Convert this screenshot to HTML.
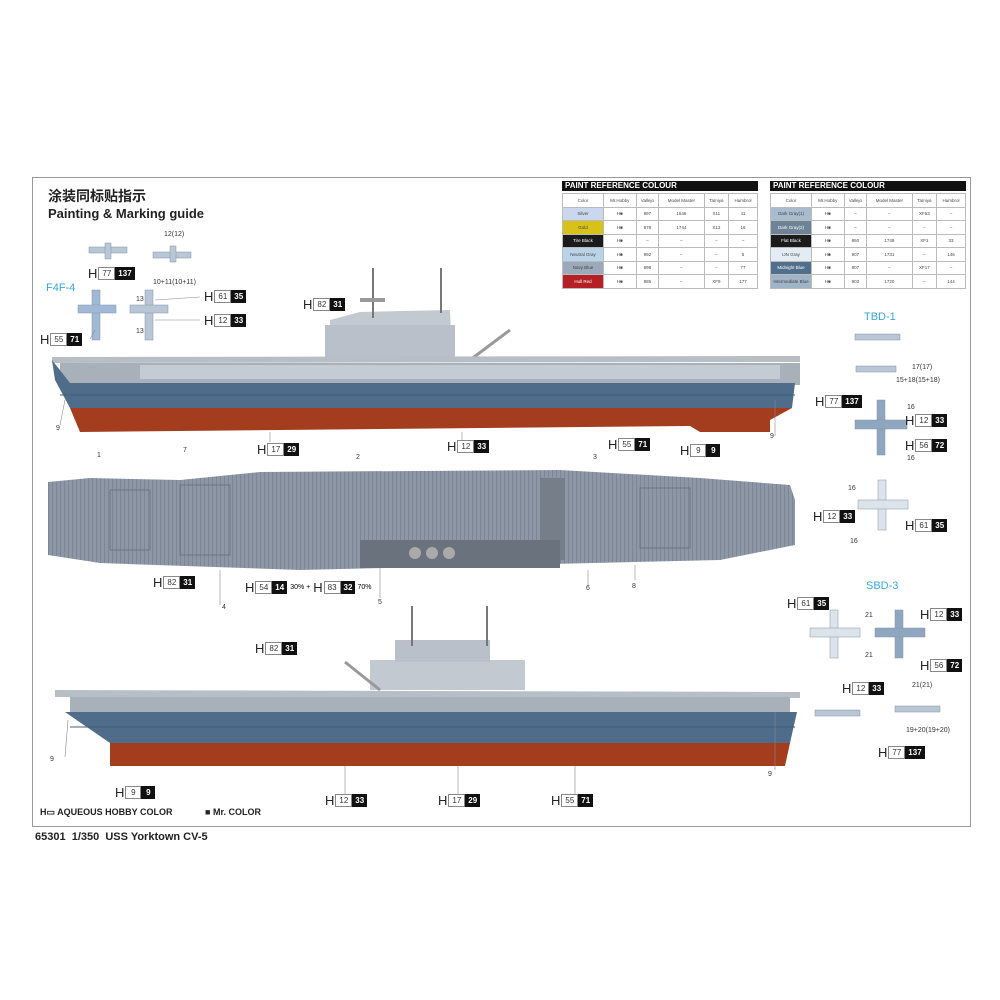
<!DOCTYPE html>
<html><head><meta charset="utf-8"><style>
body{margin:0;width:1000px;height:1000px;background:#fff;position:relative;overflow:hidden;font-family:"Liberation Sans","Noto Sans CJK SC",sans-serif}
.c{position:absolute;display:flex;align-items:center;height:13px;font-size:8px}
.c .h{font-size:13px;color:#222;margin-right:1px}
.c .w{border:1px solid #888;background:#fff;height:11px;line-height:11px;padding:0 3px;color:#333;min-width:8px;text-align:center}
.c .b{background:#111;color:#fff;font-weight:bold;height:13px;line-height:13px;padding:0 3px;min-width:8px;text-align:center}
.t{position:absolute;font-size:7px;color:#333}
table{position:absolute;border-collapse:collapse;font-size:4.5px;color:#444;background:#fff}
td{border:1px solid #bbb;text-align:center;height:12.5px;padding:0}
.hd{position:absolute;background:#111;color:#fff;font-weight:bold;font-size:8px;line-height:10px;height:10px;padding-left:3px}
</style></head><body>
<div style="position:absolute;left:32px;top:177px;width:937px;height:648px;border:1px solid #999"></div>
<div style="position:absolute;left:48px;top:186px;font-size:14px;font-weight:bold;color:#222">涂装同标贴指示</div>
<div style="position:absolute;left:48px;top:206px;font-size:13px;font-weight:bold;color:#222">Painting &amp; Marking guide</div>
<div style="position:absolute;left:46px;top:282px;font-size:11px;color:#39a6de">F4F-4</div>
<div style="position:absolute;left:864px;top:311px;font-size:11px;color:#39a6de">TBD-1</div>
<div style="position:absolute;left:866px;top:580px;font-size:11px;color:#39a6de">SBD-3</div>

<div class="hd" style="left:562px;top:181px;width:193px">PAINT REFERENCE COLOUR</div>
<div class="hd" style="left:770px;top:181px;width:193px">PAINT REFERENCE COLOUR</div>
<table style="left:562px;top:193px;width:196px">
<tr><td style="width:40px">Color</td><td>Mr.Hobby</td><td>Vallejo</td><td>Model Master</td><td>Tamiya</td><td>Humbrol</td></tr>
<tr><td style="background:#c9d8ec">Silver</td><td>H■</td><td>997</td><td>1546</td><td>X11</td><td>11</td></tr>
<tr><td style="background:#d8c21a">Gold</td><td>H■</td><td>878</td><td>1744</td><td>X12</td><td>16</td></tr>
<tr><td style="background:#1b1b1b;color:#fff">Tire Black</td><td>H■</td><td>–</td><td>–</td><td>–</td><td>–</td></tr>
<tr><td style="background:#b9d3e8">Neutral Gray</td><td>H■</td><td>992</td><td>–</td><td>–</td><td>5</td></tr>
<tr><td style="background:#9aaabb">Navy Blue</td><td>H■</td><td>898</td><td>–</td><td>–</td><td>77</td></tr>
<tr><td style="background:#b52024;color:#fff">Hull Red</td><td>H■</td><td>985</td><td>–</td><td>XF9</td><td>177</td></tr>
</table>
<table style="left:770px;top:193px;width:196px">
<tr><td style="width:40px">Color</td><td>Mr.Hobby</td><td>Vallejo</td><td>Model Master</td><td>Tamiya</td><td>Humbrol</td></tr>
<tr><td style="background:#a9bccd">Dark Gray(1)</td><td>H■</td><td>–</td><td>–</td><td>XF53</td><td>–</td></tr>
<tr><td style="background:#6e8396;color:#fff">Dark Gray(2)</td><td>H■</td><td>–</td><td>–</td><td>–</td><td>–</td></tr>
<tr><td style="background:#1b1b1b;color:#fff">Flat Black</td><td>H■</td><td>950</td><td>1749</td><td>XF1</td><td>33</td></tr>
<tr><td style="background:#e4ecf3">IJN Gray</td><td>H■</td><td>907</td><td>1731</td><td>–</td><td>146</td></tr>
<tr><td style="background:#4f6f8d;color:#fff">Midnight Blue</td><td>H■</td><td>807</td><td>–</td><td>XF17</td><td>–</td></tr>
<tr><td style="background:#9fb4c6">Intermediate Blue</td><td>H■</td><td>903</td><td>1720</td><td>–</td><td>144</td></tr>
</table>

<svg width="1000" height="1000" style="position:absolute;left:0;top:0">
<defs>
<pattern id="pl" width="4" height="10" patternUnits="userSpaceOnUse"><rect width="4" height="10" fill="#8d97a5"/><rect width="1" height="10" fill="#7c8694"/></pattern>
</defs>
<!-- ship 1 -->
<g>
<polygon points="330,360 330,320 360,312 450,310 452,360" fill="#c3c9d1"/>
<rect x="325" y="325" width="130" height="35" fill="#b9c0c9"/>
<rect x="372" y="268" width="2" height="50" fill="#777"/><rect x="440" y="268" width="2" height="45" fill="#777"/>
<rect x="360" y="298" width="25" height="4" fill="#999"/>
<line x1="470" y1="360" x2="510" y2="330" stroke="#999" stroke-width="3"/>
<polygon points="52,357 800,356 800,362 52,363" fill="#b8bec6"/>
<rect x="60" y="363" width="740" height="22" fill="#a8b0ba"/>
<rect x="140" y="365" width="640" height="14" fill="#c5cbd3"/>
<polygon points="52,360 70,383 795,383 792,408 70,408 55,380" fill="#4f6d8b"/>
<polygon points="70,408 792,408 770,420 770,432 700,432 690,426 80,432" fill="#a43c1e"/>
<line x1="60" y1="395" x2="795" y2="395" stroke="#405b76" stroke-width="1"/>
</g>
<!-- top view -->
<g>
<polygon points="48,482 90,478 180,480 260,472 560,470 700,478 790,485 795,500 795,545 720,560 300,570 100,563 48,555" fill="url(#pl)"/>
<rect x="540" y="478" width="25" height="82" fill="#767e8a"/>
<rect x="180" y="485" width="50" height="70" fill="none" stroke="#6d7580"/>
<rect x="110" y="490" width="40" height="60" fill="none" stroke="#6d7580"/>
<rect x="640" y="488" width="50" height="60" fill="none" stroke="#6d7580"/>
<rect x="360" y="540" width="200" height="28" fill="#6a727d"/>
<circle cx="415" cy="553" r="6" fill="#aaa"/><circle cx="432" cy="553" r="6" fill="#aaa"/><circle cx="449" cy="553" r="6" fill="#aaa"/>
</g>
<!-- ship 2 -->
<g>
<polygon points="370,690 370,660 525,660 525,690" fill="#c3c9d1"/>
<rect x="395" y="640" width="95" height="22" fill="#b9c0c9"/>
<rect x="411" y="606" width="2" height="40" fill="#777"/><rect x="486" y="606" width="2" height="40" fill="#777"/>
<line x1="345" y1="662" x2="380" y2="690" stroke="#999" stroke-width="3"/>
<polygon points="55,690 800,692 800,698 55,697" fill="#b8bec6"/>
<rect x="70" y="697" width="720" height="15" fill="#a8b0ba"/>
<polygon points="65,712 797,712 790,743 110,743" fill="#4f6d8b"/>
<polygon points="110,743 790,743 785,766 110,766" fill="#a43c1e"/>
<line x1="70" y1="727" x2="795" y2="727" stroke="#405b76"/>
</g>
<!-- planes -->
<g fill="#b8c6d6" stroke="#8395a8" stroke-width=".5">
<rect x="89" y="247" width="38" height="6"/><rect x="105" y="243" width="6" height="16"/>
<rect x="153" y="252" width="38" height="6"/><rect x="170" y="246" width="6" height="16"/>
<rect x="145" y="290" width="8" height="50"/><rect x="130" y="305" width="38" height="8"/>
<rect x="92" y="290" width="8" height="50" fill="#9fb9d6"/><rect x="78" y="305" width="38" height="8" fill="#9fb9d6"/>
<rect x="855" y="334" width="45" height="6"/><rect x="856" y="366" width="40" height="6"/>
<rect x="877" y="400" width="8" height="55" fill="#8fa6c0"/><rect x="855" y="420" width="52" height="9" fill="#8fa6c0"/>
<rect x="878" y="480" width="8" height="50" fill="#dde3ea"/><rect x="858" y="500" width="50" height="9" fill="#dde3ea"/>
<rect x="830" y="610" width="8" height="48" fill="#dde3ea"/><rect x="810" y="628" width="50" height="9" fill="#dde3ea"/>
<rect x="895" y="610" width="8" height="48" fill="#8fa6c0"/><rect x="875" y="628" width="50" height="9" fill="#8fa6c0"/>
<rect x="815" y="710" width="45" height="6"/><rect x="895" y="706" width="45" height="6"/>
</g>
<g stroke="#888" stroke-width=".6" fill="none">
<path d="M65,400 L60,425"/><path d="M775,400 L775,436"/><path d="M270,432 L270,442"/><path d="M462,432 L462,440"/>
<path d="M220,570 L220,605"/><path d="M380,568 L380,598"/><path d="M588,570 L588,585"/><path d="M635,565 L635,580"/>
<path d="M68,720 L65,757"/><path d="M775,712 L775,770"/><path d="M345,766 L345,795"/><path d="M458,766 L458,795"/><path d="M575,766 L575,795"/>
<path d="M155,300 L200,297"/><path d="M155,320 L200,320"/><path d="M90,339 L95,330"/>
</g>
</svg>

<div class="t" style="left:164px;top:231px">12(12)</div>
<div class="t" style="left:153px;top:279px">10+11(10+11)</div>
<div class="t" style="left:136px;top:296px">13</div><div class="t" style="left:136px;top:328px">13</div>
<div class="t" style="left:56px;top:425px">9</div><div class="t" style="left:770px;top:433px">9</div>
<div class="t" style="left:97px;top:452px">1</div><div class="t" style="left:183px;top:447px">7</div><div class="t" style="left:356px;top:454px">2</div><div class="t" style="left:593px;top:454px">3</div>
<div class="t" style="left:222px;top:604px">4</div><div class="t" style="left:378px;top:599px">5</div><div class="t" style="left:586px;top:585px">6</div><div class="t" style="left:632px;top:583px">8</div>
<div class="t" style="left:50px;top:756px">9</div><div class="t" style="left:768px;top:771px">9</div>
<div class="t" style="left:912px;top:364px">17(17)</div><div class="t" style="left:896px;top:377px">15+18(15+18)</div>
<div class="t" style="left:907px;top:404px">16</div><div class="t" style="left:907px;top:455px">16</div>
<div class="t" style="left:848px;top:485px">16</div><div class="t" style="left:850px;top:538px">16</div>
<div class="t" style="left:865px;top:612px">21</div><div class="t" style="left:865px;top:652px">21</div>
<div class="t" style="left:912px;top:682px">21(21)</div><div class="t" style="left:906px;top:727px">19+20(19+20)</div>

<div class="c" style="left:88px;top:267px"><span class="h">H</span><span class="w">77</span><span class="b">137</span></div>
<div class="c" style="left:204px;top:290px"><span class="h">H</span><span class="w">61</span><span class="b">35</span></div>
<div class="c" style="left:204px;top:314px"><span class="h">H</span><span class="w">12</span><span class="b">33</span></div>
<div class="c" style="left:40px;top:333px"><span class="h">H</span><span class="w">55</span><span class="b">71</span></div>
<div class="c" style="left:303px;top:298px"><span class="h">H</span><span class="w">82</span><span class="b">31</span></div>
<div class="c" style="left:257px;top:443px"><span class="h">H</span><span class="w">17</span><span class="b">29</span></div>
<div class="c" style="left:447px;top:440px"><span class="h">H</span><span class="w">12</span><span class="b">33</span></div>
<div class="c" style="left:608px;top:438px"><span class="h">H</span><span class="w">55</span><span class="b">71</span></div>
<div class="c" style="left:680px;top:444px"><span class="h">H</span><span class="w">9</span><span class="b">9</span></div>
<div class="c" style="left:153px;top:576px"><span class="h">H</span><span class="w">82</span><span class="b">31</span></div>
<div class="c" style="left:245px;top:581px"><span class="h">H</span><span class="w">54</span><span class="b">14</span><span style="margin:0 3px;font-size:7px">30% +</span><span class="h">H</span><span class="w">83</span><span class="b">32</span><span style="margin-left:2px;font-size:7px">70%</span></div>
<div class="c" style="left:815px;top:395px"><span class="h">H</span><span class="w">77</span><span class="b">137</span></div>
<div class="c" style="left:905px;top:414px"><span class="h">H</span><span class="w">12</span><span class="b">33</span></div>
<div class="c" style="left:905px;top:439px"><span class="h">H</span><span class="w">56</span><span class="b">72</span></div>
<div class="c" style="left:813px;top:510px"><span class="h">H</span><span class="w">12</span><span class="b">33</span></div>
<div class="c" style="left:905px;top:519px"><span class="h">H</span><span class="w">61</span><span class="b">35</span></div>
<div class="c" style="left:787px;top:597px"><span class="h">H</span><span class="w">61</span><span class="b">35</span></div>
<div class="c" style="left:920px;top:608px"><span class="h">H</span><span class="w">12</span><span class="b">33</span></div>
<div class="c" style="left:920px;top:659px"><span class="h">H</span><span class="w">56</span><span class="b">72</span></div>
<div class="c" style="left:842px;top:682px"><span class="h">H</span><span class="w">12</span><span class="b">33</span></div>
<div class="c" style="left:878px;top:746px"><span class="h">H</span><span class="w">77</span><span class="b">137</span></div>
<div class="c" style="left:255px;top:642px"><span class="h">H</span><span class="w">82</span><span class="b">31</span></div>
<div class="c" style="left:115px;top:786px"><span class="h">H</span><span class="w">9</span><span class="b">9</span></div>
<div class="c" style="left:325px;top:794px"><span class="h">H</span><span class="w">12</span><span class="b">33</span></div>
<div class="c" style="left:438px;top:794px"><span class="h">H</span><span class="w">17</span><span class="b">29</span></div>
<div class="c" style="left:551px;top:794px"><span class="h">H</span><span class="w">55</span><span class="b">71</span></div>

<div style="position:absolute;left:40px;top:807px;font-size:9px;font-weight:bold;color:#222">H▭ AQUEOUS HOBBY COLOR &nbsp;&nbsp;&nbsp;&nbsp;&nbsp;&nbsp;&nbsp;&nbsp;&nbsp;&nbsp;&nbsp;&nbsp;■ Mr. COLOR</div>
<div style="position:absolute;left:35px;top:831px;font-size:11px;font-weight:bold;color:#222">65301 &nbsp;1/350 &nbsp;USS Yorktown CV-5</div>
</body></html>
